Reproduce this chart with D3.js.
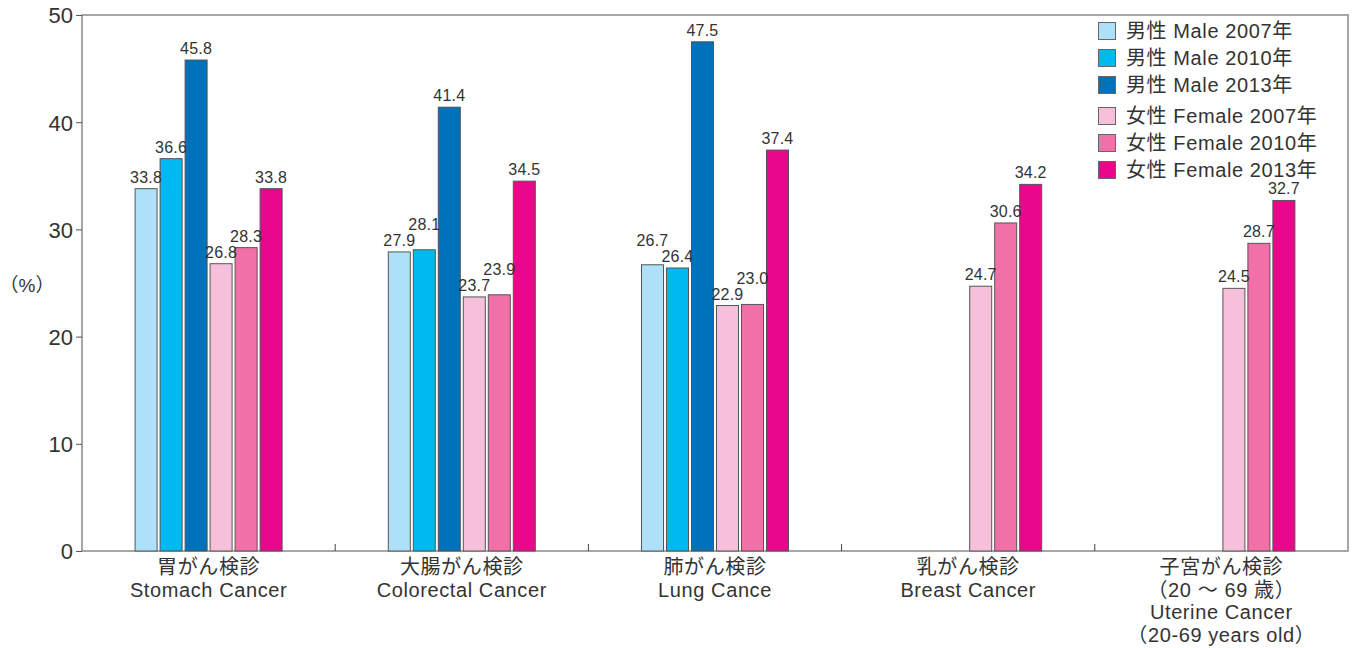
<!DOCTYPE html>
<html><head><meta charset="utf-8">
<script src="https://cdn.jsdelivr.net/npm/d3@7"></script>
<style>
html,body{margin:0;padding:0;background:#fff;}
text{font-family:"Liberation Sans","Noto Sans CJK JP",sans-serif;}
</style></head>
<body><svg id="c" width="1356" height="648"></svg>
<script>
const categories = ["stomach","colorectal","lung","breast","uterine"];
const categoryLines = [
  ["胃がん検診","Stomach Cancer"],
  ["大腸がん検診","Colorectal Cancer"],
  ["肺がん検診","Lung Cance"],
  ["乳がん検診","Breast Cancer"],
  ["子宮がん検診","（20 ～ 69 歳）","Uterine Cancer","（20-69 years old）"]
];
const seriesNames = ["男性 Male 2007年","男性 Male 2010年","男性 Male 2013年","女性 Female 2007年","女性 Female 2010年","女性 Female 2013年"];
const seriesColors = ["#aee1f9","#00b9ef","#0071bb","#f6c0da","#f070a7","#e9088b"];
const male2007   = [33.8, 27.9, 26.7, null, null];
const male2010   = [36.6, 28.1, 26.4, null, null];
const male2013   = [45.8, 41.4, 47.5, null, null];
const female2007 = [26.8, 23.7, 22.9, 24.7, 24.5];
const female2010 = [28.3, 23.9, 23.0, 30.6, 28.7];
const female2013 = [33.8, 34.5, 37.4, 34.2, 32.7];
const yTicks = [0,10,20,30,40,50];

const series = [male2007,male2010,male2013,female2007,female2010,female2013];
const svg = d3.select("#c");
const L=82,R=1348,T=15,B=551;
const x0 = d3.scaleBand().domain(categories).range([L,R]).paddingInner(0).paddingOuter(0);
const x1 = d3.scaleBand().domain(d3.range(6)).range([0,x0.bandwidth()]).paddingInner(0.12).paddingOuter(2.124);
const y = d3.scaleLinear().domain([0,50]).range([B,T]);
const axisCol="#8a8a8a";

// frame
svg.append("rect").attr("x",L).attr("y",T).attr("width",R-L).attr("height",B-T)
  .attr("fill","none").attr("stroke",axisCol).attr("stroke-width",1.5);

// y axis
const ya = svg.append("g").attr("transform",`translate(${L},0)`)
  .call(d3.axisLeft(y).tickValues(yTicks).tickSize(6).tickPadding(3).tickFormat(d3.format("d")));
ya.select(".domain").remove();
ya.selectAll("line").attr("stroke","#555").attr("stroke-width",1);
ya.selectAll("text").attr("font-size",22).attr("fill","#333").attr("dy","0.36em");

// x boundary ticks
svg.append("g").selectAll("line").data(categories.slice(1)).join("line")
  .attr("x1",d=>x0(d)).attr("x2",d=>x0(d)).attr("y1",B).attr("y2",B-7)
  .attr("stroke","#444").attr("stroke-width",1);

// x labels
categories.forEach((c,i)=>{
  const cx = x0(c)+x0.bandwidth()/2;
  const t = svg.append("text").attr("text-anchor","middle").attr("fill","#333").attr("font-size",20)
    .attr("letter-spacing",0.6).attr("x",cx).attr("y",574);
  categoryLines[i].forEach((ln,j)=>{
    t.append("tspan").attr("x",cx).attr("dy",j===0?0:22.5).text(ln);
  });
});

// y label
svg.append("text").attr("x",27).attr("y",292).attr("text-anchor","middle")
  .attr("font-size",19).attr("fill","#333").text("（%）");

// bars
const data = [];
categories.forEach((c,ci)=>{
  series.forEach((s,si)=>{ if(s[ci]!=null) data.push({c,ci,si,v:s[ci]}); });
});
svg.append("g").selectAll("rect").data(data).join("rect")
  .attr("x",d=>x0(d.c)+x1(d.si)).attr("width",x1.bandwidth())
  .attr("y",d=>y(d.v)).attr("height",d=>B-y(d.v))
  .attr("fill",d=>seriesColors[d.si]).attr("stroke","#555").attr("stroke-width",1);

// value labels with simple collision avoidance
categories.forEach((c,ci)=>{
  const items = data.filter(d=>d.ci===ci).map(d=>({...d,yb:y(d.v)-6}));
  for(let i=1;i<items.length;i++){
    const a=items[i-1], b=items[i];
    if(Math.abs(a.yb-b.yb)<16){
      if(b.v>=a.v) b.yb=a.yb-16; else a.yb=b.yb-16;
    }
  }
  svg.append("g").selectAll("text").data(items).join("text")
    .attr("x",d=>x0(d.c)+x1(d.si)+x1.bandwidth()/2).attr("y",d=>d.yb)
    .attr("text-anchor","middle").attr("font-size",16).attr("letter-spacing",0.2).attr("fill","#333")
    .text(d=>d3.format(".1f")(d.v));
});

// legend
const lg = svg.append("g");
seriesNames.forEach((n,i)=>{
  const cy = 31 + i*27 + (i>=3?4:0);
  lg.append("rect").attr("x",1098.5).attr("y",cy-8.5).attr("width",17).attr("height",17)
    .attr("fill",seriesColors[i]).attr("stroke","#666").attr("stroke-width",1);
  lg.append("text").attr("x",1126).attr("y",cy).attr("dy","0.36em")
    .attr("font-size",20).attr("letter-spacing",0.6).attr("fill","#333").text(n);
});
</script></body></html>
